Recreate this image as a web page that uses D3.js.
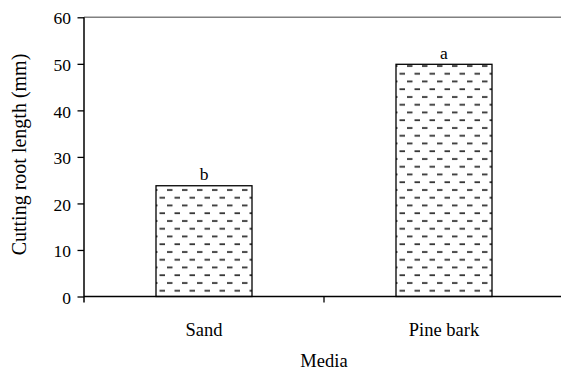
<!DOCTYPE html>
<html>
<head>
<meta charset="utf-8">
<script src="https://cdn.jsdelivr.net/npm/d3@7"></script>
<style>
  html, body { margin: 0; padding: 0; background: #fff; }
  svg { display: block; }
  text { font-family: "Liberation Serif", "Times New Roman", "DejaVu Serif", serif; fill: #000; }
</style>
</head>
<body>
<svg id="chart" width="561" height="372"></svg>
<script>
// Root length of cuttings by rooting medium
const media = ["Sand", "Pine bark"];
const rootLength = [23.8, 49.9];
const letters = ["b", "a"];
const yTicks = [0, 10, 20, 30, 40, 50, 60];

const serif = "'Liberation Serif', 'Times New Roman', 'DejaVu Serif', serif";
const svg = d3.select("#chart");
const plotLeft = 84, plotTop = 17.3, plotBottom = 296.5, plotRight = 564;

const x = d3.scaleBand().domain(media).range([plotLeft, plotRight]).paddingInner(0).paddingOuter(0);
const y = d3.scaleLinear().domain([0, 60]).range([plotBottom, plotTop]);
const barW = x.bandwidth() * 0.4;

// Dashed horizontal fill pattern
const defs = svg.append("defs");
const pat = defs.append("pattern")
  .attr("id", "dashes")
  .attr("patternUnits", "userSpaceOnUse")
  .attr("width", 15).attr("height", 15.5)
  .attr("x", 0).attr("y", 0);
pat.append("rect").attr("width", 15).attr("height", 15.5).attr("fill", "#fff");
pat.append("line").attr("x1", 2).attr("x2", 7.5).attr("y1", 4).attr("y2", 4)
  .attr("stroke", "#333").attr("stroke-width", 1.8);
pat.append("line").attr("x1", 9.5).attr("x2", 15).attr("y1", 11.75).attr("y2", 11.75)
  .attr("stroke", "#333").attr("stroke-width", 1.8);

// Top border of the plot area
svg.append("line")
  .attr("x1", plotLeft).attr("x2", 561)
  .attr("y1", y(60)).attr("y2", y(60))
  .attr("stroke", "#808080").attr("stroke-width", 1.5);

// Bars
svg.selectAll("rect.bar")
  .data(media)
  .join("rect")
  .attr("class", "bar")
  .attr("x", d => x(d) + (x.bandwidth() - barW) / 2)
  .attr("width", barW)
  .attr("y", (d, i) => y(rootLength[i]))
  .attr("height", (d, i) => y(0) - y(rootLength[i]))
  .attr("fill", "url(#dashes)")
  .attr("stroke", "#000")
  .attr("stroke-width", 1.3);

// Significance letters
svg.selectAll("text.sig")
  .data(media)
  .join("text")
  .attr("class", "sig")
  .attr("x", d => x(d) + x.bandwidth() / 2)
  .attr("y", (d, i) => y(rootLength[i]) - 5.5)
  .attr("text-anchor", "middle")
  .style("font-size", "17.5px")
  .text((d, i) => letters[i]);

// Y axis
const yAxis = svg.append("g")
  .attr("transform", `translate(${plotLeft},0)`)
  .call(d3.axisLeft(y).tickValues(yTicks).tickSize(6.5).tickPadding(6.5).tickFormat(d3.format("d")));
yAxis.select(".domain").attr("stroke", "#000").attr("stroke-width", 1.5)
  .attr("d", `M0,${plotTop}V${plotBottom + 6}`);
yAxis.selectAll(".tick line").attr("stroke", "#000").attr("stroke-width", 1.3);
yAxis.selectAll(".tick text")
  .attr("dy", "0.38em")
  .style("font-family", serif)
  .style("font-size", "17.5px").attr("fill", "#000");

// X axis
const xAxis = svg.append("g")
  .attr("transform", `translate(0,${plotBottom})`);
xAxis.append("line")
  .attr("x1", plotLeft).attr("x2", 561).attr("y1", 0).attr("y2", 0)
  .attr("stroke", "#000").attr("stroke-width", 1.5);
xAxis.selectAll("line.sep")
  .data(media.slice(1))
  .join("line")
  .attr("class", "sep")
  .attr("x1", d => x(d)).attr("x2", d => x(d))
  .attr("y1", 0).attr("y2", 6)
  .attr("stroke", "#000").attr("stroke-width", 1.3);
xAxis.selectAll("text.cat")
  .data(media)
  .join("text")
  .attr("class", "cat")
  .attr("x", d => x(d) + x.bandwidth() / 2)
  .attr("y", 39.5)
  .attr("text-anchor", "middle")
  .style("font-size", "18.5px")
  .text(d => d);

// Axis titles
svg.append("text")
  .attr("x", (plotLeft + plotRight) / 2)
  .attr("y", 367)
  .attr("text-anchor", "middle")
  .style("font-size", "18.5px")
  .text("Media");

svg.append("text")
  .attr("transform", `translate(26,154.5) rotate(-90)`)
  .attr("text-anchor", "middle")
  .style("font-size", "20px")
  .text("Cutting root length (mm)");
</script>
</body>
</html>
